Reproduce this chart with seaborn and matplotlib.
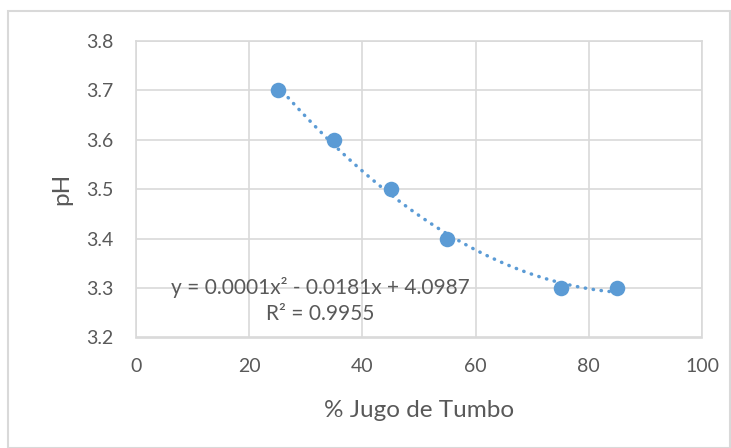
import numpy as np
import pandas as pd
import seaborn as sns
import matplotlib.pyplot as plt
from matplotlib.patches import Rectangle

jugo = [25, 35, 45, 55, 75, 85]
ph = [3.7, 3.6, 3.5, 3.4, 3.3, 3.3]
eq_text = "y = 0.0001x² - 0.0181x + 4.0987\nR² = 0.9955"

df = pd.DataFrame({"jugo": jugo, "ph": ph})

sns.set_style("white")
plt.rcParams['font.family'] = ['Lato', 'DejaVu Sans']
gray = "#595959"
grid = "#d9d9d9"
blue = "#5B9BD5"

fig = plt.figure(figsize=(7.31, 4.48), dpi=100)
ax = fig.add_axes([136 / 731, 1 - 337.5 / 448, (702 - 136) / 731, (337.5 - 41) / 448])

# polynomial trendline (order 2) fitted to the data
coef = np.polyfit(df["jugo"], df["ph"], 2)
xs = np.linspace(df["jugo"].min(), df["jugo"].max(), 200)
ax.plot(xs, np.polyval(coef, xs), color=blue, lw=2.5, ls=(0, (0.1, 2.2)),
        dash_capstyle="round", zorder=2)

sns.scatterplot(data=df, x="jugo", y="ph", ax=ax, color=blue, s=125,
                edgecolor=blue, linewidth=0, zorder=3)

ax.set_xlim(0, 100)
ax.set_ylim(3.2, 3.8)
ax.set_xticks(range(0, 101, 20))
ax.set_yticks(np.arange(3.2, 3.81, 0.1))
ax.set_yticklabels([f"{v:.1f}" for v in np.arange(3.2, 3.81, 0.1)])
ax.grid(True, color=grid, lw=1.2)
for s in ax.spines.values():
    s.set_color(grid)
    s.set_linewidth(1.2)
ax.tick_params(length=0, labelsize=14, colors=gray)
ax.tick_params(axis="x", pad=14.5)
ax.tick_params(axis="y", pad=16)

ax.set_xlabel("% Jugo de Tumbo", fontsize=17.5, color=gray, labelpad=18)
ax.set_ylabel("pH", fontsize=17.5, color=gray, labelpad=10.5)

ax.text(32.5, 3.275, eq_text, ha="center", va="center", fontsize=15,
        color=gray, linespacing=1.4, zorder=4)

fig.patches.append(Rectangle((8 / 731, 0), 722 / 731, 1 - 11 / 448,
                             transform=fig.transFigure, fill=False,
                             edgecolor=grid, lw=1.5))

fig.savefig("out.png", dpi=100)
